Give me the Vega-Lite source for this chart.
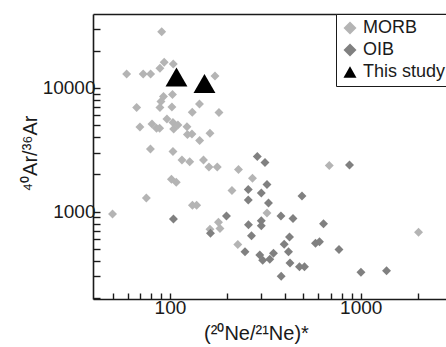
{
  "$schema": "https://vega.github.io/schema/vega-lite/v6.json",
  "width": 353,
  "height": 285,
  "autosize": {"type": "none"},
  "padding": {"left": 93, "top": 14, "right": 0, "bottom": 48},
  "background": "white",
  "config": {
    "view": {"stroke": null},
    "font": "Liberation Sans",
    "axis": {
      "grid": false,
      "domainColor": "#1a1a1a",
      "domainWidth": 1.6,
      "tickColor": "#1a1a1a",
      "tickWidth": 1.4,
      "labelColor": "#1a1a1a",
      "titleColor": "#1a1a1a",
      "labelFont": "Liberation Sans",
      "titleFont": "Liberation Sans",
      "labelFontSize": 19,
      "titleFontSize": 20,
      "titleFontWeight": "normal"
    }
  },
  "data": {
    "values": [
      {"x": 90.5, "y": 28500, "type": "MORB"},
      {"x": 59.3, "y": 12980, "type": "MORB"},
      {"x": 72.4, "y": 12980, "type": "MORB"},
      {"x": 79.2, "y": 12980, "type": "MORB"},
      {"x": 88.6, "y": 14430, "type": "MORB"},
      {"x": 93.3, "y": 16140, "type": "MORB"},
      {"x": 104.1, "y": 15630, "type": "MORB"},
      {"x": 172.2, "y": 12500, "type": "MORB"},
      {"x": 66.9, "y": 6957, "type": "MORB"},
      {"x": 92.5, "y": 8537, "type": "MORB"},
      {"x": 103.1, "y": 8860, "type": "MORB"},
      {"x": 89.7, "y": 7780, "type": "MORB"},
      {"x": 88.6, "y": 6957, "type": "MORB"},
      {"x": 102.4, "y": 7020, "type": "MORB"},
      {"x": 142.8, "y": 7425, "type": "MORB"},
      {"x": 130.9, "y": 6363, "type": "MORB"},
      {"x": 180.7, "y": 6339, "type": "MORB"},
      {"x": 69.6, "y": 4838, "type": "MORB"},
      {"x": 80.5, "y": 5117, "type": "MORB"},
      {"x": 85.0, "y": 4722, "type": "MORB"},
      {"x": 88.3, "y": 4722, "type": "MORB"},
      {"x": 96.4, "y": 5615, "type": "MORB"},
      {"x": 103.7, "y": 5262, "type": "MORB"},
      {"x": 110.1, "y": 5022, "type": "MORB"},
      {"x": 104.6, "y": 4662, "type": "MORB"},
      {"x": 122.8, "y": 4866, "type": "MORB"},
      {"x": 123.5, "y": 4209, "type": "MORB"},
      {"x": 130.4, "y": 4248, "type": "MORB"},
      {"x": 143.1, "y": 3763, "type": "MORB"},
      {"x": 162.1, "y": 4303, "type": "MORB"},
      {"x": 79.0, "y": 3213, "type": "MORB"},
      {"x": 103.7, "y": 3066, "type": "MORB"},
      {"x": 115.6, "y": 2618, "type": "MORB"},
      {"x": 126.9, "y": 2536, "type": "MORB"},
      {"x": 149.9, "y": 2618, "type": "MORB"},
      {"x": 160.1, "y": 2298, "type": "MORB"},
      {"x": 177.0, "y": 2298, "type": "MORB"},
      {"x": 101.8, "y": 1828, "type": "MORB"},
      {"x": 107.9, "y": 1729, "type": "MORB"},
      {"x": 75.2, "y": 1291, "type": "MORB"},
      {"x": 131.2, "y": 1126, "type": "MORB"},
      {"x": 138.0, "y": 1126, "type": "MORB"},
      {"x": 50.0, "y": 958, "type": "MORB"},
      {"x": 162.1, "y": 721, "type": "MORB"},
      {"x": 179.6, "y": 821, "type": "MORB"},
      {"x": 182.9, "y": 731, "type": "MORB"},
      {"x": 228.7, "y": 2193, "type": "MORB"},
      {"x": 270.8, "y": 1862, "type": "MORB"},
      {"x": 211.4, "y": 1484, "type": "MORB"},
      {"x": 322.6, "y": 976, "type": "MORB"},
      {"x": 226.8, "y": 543, "type": "MORB"},
      {"x": 684.4, "y": 2363, "type": "MORB"},
      {"x": 2010, "y": 682, "type": "MORB"},
      {"x": 104.3, "y": 873, "type": "OIB"},
      {"x": 163.1, "y": 669, "type": "OIB"},
      {"x": 197.8, "y": 923, "type": "OIB"},
      {"x": 287.0, "y": 2795, "type": "OIB"},
      {"x": 314.9, "y": 2498, "type": "OIB"},
      {"x": 322.6, "y": 1660, "type": "OIB"},
      {"x": 257.4, "y": 1512, "type": "OIB"},
      {"x": 301.2, "y": 1416, "type": "OIB"},
      {"x": 257.4, "y": 1243, "type": "OIB"},
      {"x": 328.5, "y": 1176, "type": "OIB"},
      {"x": 492.2, "y": 1339, "type": "OIB"},
      {"x": 258.0, "y": 784, "type": "OIB"},
      {"x": 301.2, "y": 846, "type": "OIB"},
      {"x": 301.2, "y": 769, "type": "OIB"},
      {"x": 381.9, "y": 923, "type": "OIB"},
      {"x": 441.6, "y": 881, "type": "OIB"},
      {"x": 638.3, "y": 798, "type": "OIB"},
      {"x": 267.6, "y": 639, "type": "OIB"},
      {"x": 423.4, "y": 625, "type": "OIB"},
      {"x": 397.1, "y": 546, "type": "OIB"},
      {"x": 579.4, "y": 555, "type": "OIB"},
      {"x": 608.1, "y": 572, "type": "OIB"},
      {"x": 247.4, "y": 475, "type": "OIB"},
      {"x": 295.8, "y": 447, "type": "OIB"},
      {"x": 306.3, "y": 405, "type": "OIB"},
      {"x": 333.7, "y": 413, "type": "OIB"},
      {"x": 348.9, "y": 462, "type": "OIB"},
      {"x": 418.3, "y": 475, "type": "OIB"},
      {"x": 425.9, "y": 385, "type": "OIB"},
      {"x": 477.5, "y": 359, "type": "OIB"},
      {"x": 507.3, "y": 359, "type": "OIB"},
      {"x": 769.4, "y": 495, "type": "OIB"},
      {"x": 382.9, "y": 301, "type": "OIB"},
      {"x": 1003, "y": 324, "type": "OIB"},
      {"x": 1366, "y": 333, "type": "OIB"},
      {"x": 873.6, "y": 2385, "type": "OIB"},
      {"x": 108.2, "y": 12270, "type": "This study"},
      {"x": 151.7, "y": 10870, "type": "This study"}
    ]
  },
  "layer": [
    {
      "transform": [{"filter": "datum.type != 'This study'"}],
      "mark": {"type": "point", "filled": true, "opacity": 1, "size": 80},
      "encoding": {
        "x": {
          "field": "x",
          "type": "quantitative",
          "scale": {"type": "log", "domain": [39.5, 2800], "nice": false, "zero": false},
          "axis": {
            "orient": "bottom",
            "values": [50, 60, 70, 80, 90, 100, 200, 300, 400, 500, 600, 700, 800, 900, 1000, 2000],
            "format": "d",
            "labelExpr": "datum.value == 100 || datum.value == 1000 ? datum.label : ''",
            "tickSize": -6,
            "labelPadding": 5,
            "labelOverlap": false,
            "title": "(²⁰Ne/²¹Ne)*",
            "titleX": 163,
            "titleY": 40,
            "titleBaseline": "alphabetic"
          }
        },
        "y": {
          "field": "y",
          "type": "quantitative",
          "scale": {"type": "log", "domain": [197, 39600], "nice": false, "zero": false},
          "axis": {
            "values": [200, 300, 400, 500, 600, 700, 800, 900, 1000, 2000, 3000, 4000, 5000, 6000, 7000, 8000, 9000, 10000, 20000, 30000],
            "format": "d",
            "labelExpr": "datum.value == 1000 || datum.value == 10000 ? datum.label : ''",
            "tickSize": -7,
            "labelPadding": 5,
            "labelOverlap": false,
            "title": "⁴⁰Ar/³⁶Ar",
            "titleX": -57,
            "titleY": 139,
            "titleBaseline": "alphabetic"
          }
        },
        "color": {
          "field": "type",
          "type": "nominal",
          "scale": {"domain": ["MORB", "OIB", "This study"], "range": ["#b4b4b4", "#808080", "#000000"]},
          "legend": {
            "title": null,
            "orient": "none",
            "legendX": 243,
            "legendY": 0,
            "strokeColor": "#1a1a1a",
            "fillColor": "white",
            "padding": 5,
            "rowPadding": 4,
            "symbolSize": 170,
            "labelFontSize": 18,
            "labelFont": "Liberation Sans",
            "labelColor": "#1a1a1a",
            "labelOffset": 4,
            "symbolStrokeWidth": 0
          }
        },
        "shape": {
          "field": "type",
          "type": "nominal",
          "scale": {"domain": ["MORB", "OIB", "This study"], "range": ["diamond", "diamond", "triangle-up"]}
        }
      }
    },
    {
      "transform": [{"filter": "datum.type == 'This study'"}],
      "mark": {"type": "point", "filled": true, "opacity": 1, "size": 480},
      "encoding": {
        "x": {
          "field": "x",
          "type": "quantitative",
          "axis": {"orient": "top", "ticks": false, "labels": false, "title": null, "domain": true}
        },
        "y": {"field": "y", "type": "quantitative"},
        "color": {"field": "type", "type": "nominal"},
        "shape": {"field": "type", "type": "nominal"}
      }
    }
  ],
  "resolve": {"axis": {"x": "independent"}}
}
